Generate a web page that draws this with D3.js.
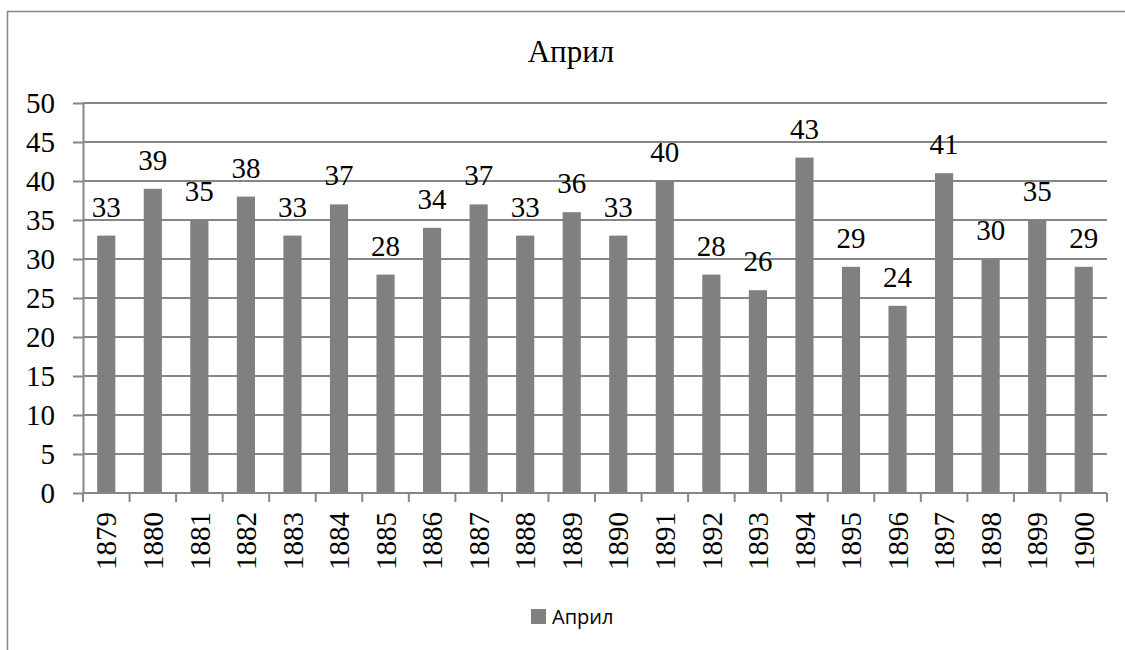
<!DOCTYPE html>
<html>
<head>
<meta charset="utf-8"/>
<script src="https://cdn.jsdelivr.net/npm/d3@7"></script>
<style>
  body { margin: 0; background: #fff; }
  svg { display: block; }
</style>
</head>
<body>
<script>
  // data
  var years = ["1879", "1880", "1881", "1882", "1883", "1884", "1885", "1886",
               "1887", "1888", "1889", "1890", "1891", "1892", "1893", "1894",
               "1895", "1896", "1897", "1898", "1899", "1900"];
  var values = [33, 39, 35, 38, 33, 37, 28, 34, 37, 33, 36, 33, 40, 28, 26, 43,
                29, 24, 41, 30, 35, 29];
  var yTicks = [0, 5, 10, 15, 20, 25, 30, 35, 40, 45, 50];
  var seriesName = "Април";

  var w = 1125, h = 650;
  var serif = "'Liberation Serif', 'Times New Roman', serif";
  var sans = "'Open Sans', 'Liberation Sans', sans-serif";
  var grey = "#868686";

  var svg = d3.select("body").append("svg")
    .attr("width", w)
    .attr("height", h);

  svg.append("rect")
    .attr("width", w)
    .attr("height", h)
    .attr("fill", "#fff");

  // chart area border (runs off the right and bottom edge)
  svg.append("rect")
    .attr("x", 7.5)
    .attr("y", 11.5)
    .attr("width", w + 20)
    .attr("height", h + 20)
    .attr("fill", "none")
    .attr("stroke", grey)
    .attr("stroke-width", 1.5);

  var plotL = 83, plotR = 1107, plotT = 103, plotB = 493;

  var x = d3.scaleBand()
    .domain(years)
    .range([plotL, plotR])
    .paddingInner(0.61)
    .paddingOuter(0.305);

  var y = d3.scaleLinear()
    .domain([0, 50])
    .range([plotB, plotT]);

  // title
  svg.append("text")
    .attr("x", 571)
    .attr("y", 62)
    .attr("text-anchor", "middle")
    .style("font-family", serif)
    .style("font-size", "31px")
    .text(seriesName);

  // y labels + left ticks
  var yAxis = svg.append("g")
    .attr("transform", "translate(" + plotL + ",0)")
    .call(d3.axisLeft(y).tickValues(yTicks).tickSize(10).tickPadding(18)
      .tickSizeOuter(0));
  yAxis.select(".domain").attr("stroke", grey).attr("stroke-width", 2);
  yAxis.selectAll(".tick line").attr("stroke", grey).attr("stroke-width", 2);
  yAxis.selectAll(".tick text")
    .style("font-family", serif)
    .style("font-size", "29px")
    .attr("fill", "#000");

  // gridlines
  svg.append("g").selectAll("line")
    .data(yTicks.filter(function(t) { return t > 0; }))
    .join("line")
    .attr("x1", plotL)
    .attr("x2", plotR)
    .attr("y1", function(d) { return y(d); })
    .attr("y2", function(d) { return y(d); })
    .attr("stroke", grey)
    .attr("stroke-width", 2);

  // bars
  svg.append("g").selectAll("rect")
    .data(values)
    .join("rect")
    .attr("x", function(d, i) { return x(years[i]); })
    .attr("width", x.bandwidth())
    .attr("y", function(d) { return y(d); })
    .attr("height", function(d) { return plotB - y(d); })
    .attr("fill", "#808080");

  // x axis
  var step = x.step();
  var xAxis = svg.append("g")
    .attr("transform", "translate(0," + plotB + ")");
  xAxis.append("line")
    .attr("x1", plotL)
    .attr("x2", plotR)
    .attr("stroke", grey)
    .attr("stroke-width", 2);
  xAxis.selectAll(".tk")
    .data(d3.range(years.length + 1))
    .join("line")
    .attr("class", "tk")
    .attr("x1", function(i) { return plotL + i * step; })
    .attr("x2", function(i) { return plotL + i * step; })
    .attr("y1", 0)
    .attr("y2", 9)
    .attr("stroke", grey)
    .attr("stroke-width", 2);
  xAxis.selectAll("text")
    .data(years)
    .join("text")
    .attr("transform", function(d) {
      return "translate(" + (x(d) + x.bandwidth() / 2) + ",19) rotate(-90)";
    })
    .attr("dy", "0.35em")
    .attr("text-anchor", "end")
    .style("font-family", serif)
    .style("font-size", "29px")
    .text(function(d) { return d; });

  // data labels
  svg.append("g").selectAll("text")
    .data(values)
    .join("text")
    .attr("x", function(d, i) { return x(years[i]) + x.bandwidth() / 2; })
    .attr("y", function(d) { return y(d) - 19; })
    .attr("text-anchor", "middle")
    .style("font-family", serif)
    .style("font-size", "29px")
    .text(function(d) { return d; });

  // legend
  var lg = svg.append("g").attr("transform", "translate(531,609)");
  lg.append("rect")
    .attr("width", 15)
    .attr("height", 15)
    .attr("fill", "#808080");
  lg.append("text")
    .attr("x", 21)
    .attr("y", 15)
    .style("font-family", sans)
    .style("font-size", "20px")
    .text(seriesName);
</script>
</body>
</html>
